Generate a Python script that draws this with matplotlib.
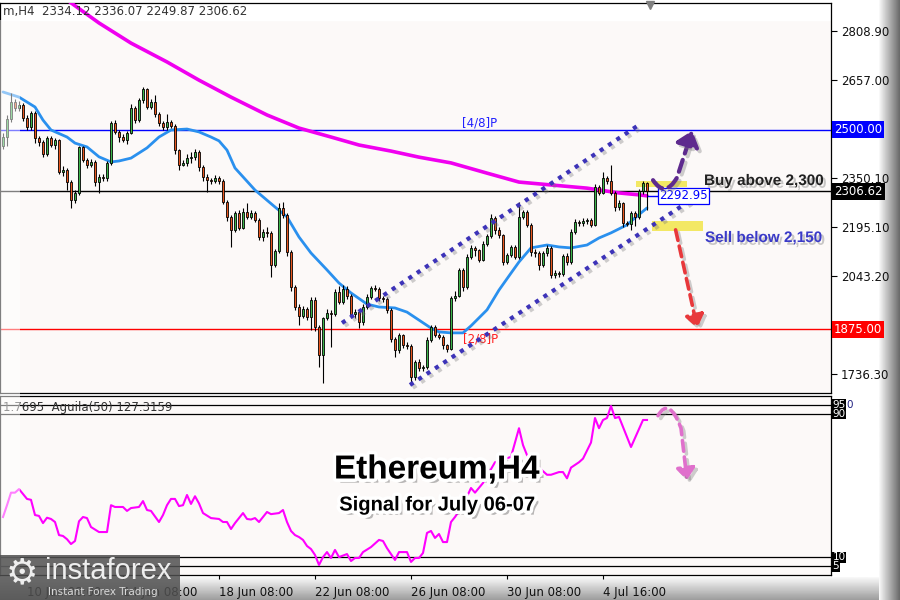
import numpy as np
import matplotlib
matplotlib.use('Agg')
from matplotlib import pyplot as plt
from matplotlib import patheffects as pe
from matplotlib.patches import Rectangle, FancyArrowPatch
from matplotlib.path import Path
from matplotlib.lines import Line2D
from matplotlib.transforms import blended_transform_factory

W, H = 900, 600

# ETHUSD H4 candles (open of first bar, then closes / highs / lows)
first_open = 2450.0
closes = [2477, 2533, 2587, 2568, 2577, 2536, 2508, 2552, 2474, 2461,
          2424, 2474, 2452, 2468, 2368, 2374, 2336, 2280, 2302, 2446,
          2405, 2390, 2399, 2336, 2352, 2349, 2396, 2521, 2493, 2477,
          2468, 2490, 2568, 2530, 2593, 2627, 2571, 2587, 2549, 2521,
          2508, 2524, 2512, 2436, 2390, 2396, 2411, 2415, 2430, 2383,
          2352, 2342, 2339, 2349, 2339, 2274, 2227, 2186, 2239, 2192,
          2242, 2227, 2239, 2217, 2164, 2180, 2177, 2077, 2120, 2255,
          2233, 2117, 2008, 1945, 1917, 1939, 1914, 1967, 1882, 1795,
          1911, 1926, 1924, 1992, 1961, 2001, 1979, 1923, 1929, 1898,
          1945, 1976, 2004, 2001, 1973, 1970, 1936, 1845, 1810, 1857,
          1826, 1824, 1726, 1773, 1754, 1757, 1842, 1882, 1857, 1851,
          1826, 1814, 1973, 1979, 2061, 2008, 2102, 2130, 2123, 2092,
          2142, 2167, 2224, 2186, 2170, 2086, 2108, 2133, 2101, 2227,
          2242, 2202, 2117, 2114, 2077, 2114, 2130, 2045, 2051, 2048,
          2105, 2086, 2180, 2211, 2209, 2214, 2217, 2202, 2321, 2302,
          2349, 2339, 2302, 2258, 2271, 2208, 2206, 2239, 2227, 2308,
          2334.12, 2306.62]
highs = [2490, 2545, 2615, 2595, 2590, 2582, 2545, 2560, 2558, 2480,
         2468, 2480, 2480, 2475, 2472, 2385, 2380, 2342, 2310, 2449,
         2450, 2412, 2408, 2405, 2360, 2360, 2402, 2528, 2530, 2500,
         2485, 2496, 2580, 2575, 2600, 2634, 2632, 2595, 2608, 2555,
         2528, 2550, 2530, 2518, 2440, 2405, 2425, 2430, 2440, 2435,
         2390, 2360, 2350, 2358, 2355, 2345, 2280, 2232, 2245, 2250,
         2255, 2271, 2248, 2245, 2225, 2190, 2195, 2183, 2128, 2271,
         2274, 2240, 2122, 2015, 1955, 1948, 1945, 1975, 1975, 1890,
         1915, 1940, 1935, 2000, 2010, 2015, 2010, 1985, 1940, 1935,
         1955, 1985, 2012, 2015, 2008, 1980, 1975, 1942, 1850, 1865,
         1862, 1835, 1830, 1780, 1782, 1765, 1850, 1890, 1888, 1865,
         1858, 1830, 1980, 1995, 2068, 2066, 2110, 2140, 2135, 2128,
         2150, 2175, 2235, 2230, 2195, 2175, 2115, 2140, 2138, 2274,
         2250, 2248, 2208, 2125, 2120, 2120, 2140, 2135, 2060, 2058,
         2112, 2115, 2190, 2220, 2218, 2222, 2225, 2222, 2330, 2328,
         2368, 2355, 2390, 2308, 2280, 2275, 2215, 2245, 2245, 2315,
         2340, 2336.07]
lows = [2440, 2450, 2525, 2560, 2560, 2528, 2500, 2500, 2458, 2450,
        2415, 2418, 2445, 2440, 2360, 2355, 2311, 2255, 2270, 2295,
        2398, 2380, 2382, 2325, 2302, 2340, 2340, 2390, 2485, 2460,
        2460, 2455, 2485, 2520, 2525, 2585, 2565, 2565, 2540, 2510,
        2500, 2500, 2505, 2425, 2375, 2385, 2385, 2395, 2405, 2370,
        2340, 2305, 2330, 2332, 2330, 2268, 2215, 2133, 2180, 2185,
        2188, 2220, 2220, 2210, 2155, 2150, 2165, 2039, 2070, 2115,
        2225, 2105, 1995, 1935, 1889, 1910, 1905, 1873, 1870, 1757,
        1707, 1905, 1820, 1918, 1955, 1955, 1970, 1915, 1910, 1880,
        1890, 1940, 1970, 1995, 1965, 1960, 1925, 1835, 1790, 1800,
        1818, 1815, 1705, 1715, 1745, 1745, 1750, 1835, 1850, 1845,
        1815, 1805, 1810, 1965, 1975, 1995, 2000, 2095, 2105, 2085,
        2088, 2135, 2160, 2175, 2160, 2075, 2080, 2100, 2095, 2095,
        2220, 2195, 2105, 2100, 2060, 2070, 2105, 2035, 2035, 2040,
        2042, 2075, 2080, 2175, 2200, 2200, 2205, 2195, 2198, 2295,
        2298, 2330, 2295, 2245, 2250, 2195, 2198, 2186, 2200, 2220,
        2300, 2249.87]

# moving averages (bar index, value)
fast_idx = [0, 4, 8, 10, 12, 16, 18, 21, 24, 27, 29, 32, 36, 39, 42, 46, 49,
            52, 54, 56, 58, 63, 68, 71, 74, 77, 81, 84, 87, 91, 94, 98, 101,
            104, 107, 109, 112, 115, 117, 121, 124, 127, 129, 132, 136, 139,
            142, 146, 149, 152, 156, 158, 161]
fast_val = [2618, 2602, 2571, 2530, 2499, 2477, 2458, 2446, 2415, 2399, 2402,
            2411, 2443, 2477, 2499, 2502, 2493, 2477, 2465, 2436, 2380, 2311,
            2258, 2227, 2164, 2114, 2061, 2020, 1989, 1954, 1945, 1942, 1929,
            1904, 1879, 1867, 1864, 1864, 1886, 1936, 1998, 2051, 2086, 2130,
            2139, 2133, 2130, 2139, 2161, 2177, 2202, 2224, 2255]
slow_idx = [10, 17, 24, 32, 41, 49, 57, 66, 74, 82, 89, 97, 104, 112, 121,
            129, 137, 146, 154, 159, 161]
slow_val = [2962, 2897, 2834, 2771, 2712, 2655, 2602, 2546, 2505, 2477, 2452,
            2433, 2414, 2396, 2364, 2336, 2327, 2317, 2302, 2296, 2292.95]

# Aguila(50) oscillator
ind_idx = [0, 1, 2, 3, 4, 6, 7, 8, 9, 10, 11, 12, 13, 14, 15, 16, 17, 18, 19,
           20, 21, 22, 24, 26, 27, 28, 30, 31, 32, 34, 35, 36, 37, 39, 40, 41,
           42, 43, 44, 45, 46, 47, 48, 49, 50, 52, 54, 55, 56, 57, 58, 59, 60,
           61, 62, 63, 64, 66, 67, 69, 70, 71, 72, 73, 74, 75, 76, 77, 78, 79,
           80, 81, 82, 83, 84, 86, 87, 88, 89, 90, 92, 94, 95, 96, 98, 99,
           101, 102, 103, 104, 105, 106, 107, 108, 109, 110, 111, 112, 113,
           115, 117, 118, 120, 123, 127, 129, 130, 131, 132, 135, 136, 137,
           139, 140, 141, 142, 144, 145, 147, 148, 149, 150, 151, 152, 153,
           154, 157, 160, 161]
ind_val = [32.4, 39, 46, 46, 48, 42.5, 42, 33.5, 33, 29, 32, 31.3, 29.6, 22.3,
           21.8, 20, 17.3, 19, 30, 32.4, 31.8, 26.8, 24, 24, 39, 38, 38, 35.8,
           37.4, 38, 41.3, 36.3, 35.8, 29.6, 33.5, 39, 42.5, 42.5, 38.5, 39,
           44.7, 39.7, 44, 40, 34.6, 31.8, 31.3, 29.6, 29.6, 25.7, 29, 31.8,
           34.6, 31.3, 31, 31.8, 29.6, 35.2, 34, 34.6, 36.3, 29.6, 24.6, 22.3,
           21.2, 19.6, 16.2, 14.5, 11.2, 5.6, 10, 12.8, 9.5, 14, 10, 11.7, 7.8,
           9.5, 9.5, 12.8, 15.6, 19.6, 19, 15, 8.4, 12.8, 12.8, 7.3, 9.5, 9.5,
           12.3, 23.5, 24.6, 20.7, 22.9, 18.4, 18.4, 29.6, 32.4, 39, 48.6, 46,
           51.4, 63, 66, 82, 72.6, 67, 64, 58, 56, 56, 57.5, 57.5, 54, 60, 63,
           65, 74, 87.7, 82, 86.6, 87.7, 94.4, 87.7, 88.3, 71.5, 86.6, 86.6]
ind_levels = [95, 90, 10, 5]

price_ticks = [2808.90, 2657.00, 2505.10, 2350.10, 2195.10, 2043.20, 1891.30, 1736.30]
hidden_ticks = [2505.10, 1891.30]  # covered by the level boxes
date_ticks = [6, 30, 54, 78, 102, 126, 150]
date_labels = ['10 Jun 08:00', '14 Jun 08:00', '18 Jun 08:00', '22 Jun 08:00',
               '26 Jun 08:00', '30 Jun 08:00', '4 Jul 16:00']

murrey_48 = 2500.0
murrey_28 = 1875.0
last_price = 2306.62
slow_last = 2292.95

# analyst drawings: channel (bar, price) pairs
channel_upper = ([84.75, 158.5], [1895, 2511])
channel_lower = ([101.75, 175.75], [1701, 2311])


def fx(x):
    return x / W


def fy(y):
    return 1 - y / H


fig = plt.figure(figsize=(9, 6), dpi=100)
fig.patch.set_facecolor('white')

# frame bevel on the right and the bottom
bg = fig.add_axes([0, 0, 1, 1], zorder=-10)
bg.set_xlim(0, W)
bg.set_ylim(H, 0)
bg.axis('off')
bg.imshow(np.linspace(0.97, 0.42, 20).reshape(1, -1), cmap='gray', vmin=0, vmax=1,
          extent=[879, 900, 600, 0], aspect='auto')
bg.imshow(np.linspace(0.97, 0.62, 20).reshape(-1, 1), cmap='gray', vmin=0, vmax=1,
          extent=[0, 879, 600, 577], aspect='auto')

ax = fig.add_axes([0, fy(393), fx(831), (393 - 3) / H])
ax2 = fig.add_axes([0, fy(575), fx(831), (575 - 396) / H])
for a in (ax, ax2):
    a.set_facecolor('#fcf9f8')
    for s in a.spines.values():
        s.set_color('black')
        s.set_linewidth(0.9)
    a.set_xlim(-0.75, 207)

ax.set_ylim(1675.8, 2896.5)
ax.add_patch(Rectangle((0, 0.957), 1, 0.05, transform=ax.transAxes,
                       color='white', zorder=0.5))

# candles
closes = np.array(closes, dtype=float)
highs = np.array(highs, dtype=float)
lows = np.array(lows, dtype=float)
opens = np.r_[first_open, closes[:-1]]
x = np.arange(len(closes))
up = closes >= opens
ax.vlines(x, lows, highs, color='black', lw=0.8, zorder=3)
ax.bar(x[up], (closes - opens)[up], bottom=opens[up], width=0.72,
       color='#3cb54a', edgecolor='black', lw=0.6, zorder=4)
ax.bar(x[~up], (closes - opens)[~up], bottom=opens[~up], width=0.72,
       color='#e8561e', edgecolor='black', lw=0.6, zorder=4)

ax.plot(slow_idx, slow_val, color='#f000f0', lw=2.6, zorder=2.6,
        solid_capstyle='round')
ax.plot(fast_idx, fast_val, color='#2a90ee', lw=2.0, zorder=2.7,
        solid_capstyle='round')

ax.axhline(murrey_48, color='#0000ff', lw=1, zorder=2)
ax.axhline(last_price, color='black', lw=1, zorder=2)
ax.axhline(murrey_28, color='#ff0000', lw=1, zorder=2)
ax.text(114.75, murrey_48 + 2, '[4/8]P', color='#2020ff', fontsize=8.5,
        va='bottom', ha='left', zorder=6)
ax.text(115, murrey_28 - 10, '[2/8]P', color='#ff2020', fontsize=8.5,
        va='top', ha='left', zorder=6)

dot_fx = [pe.SimpleLineShadow(offset=(2, -2), shadow_color='#777777', alpha=0.35),
          pe.Normal()]
for xs, ys in (channel_upper, channel_lower):
    ax.plot(xs, ys, color='#3d33b8', lw=3.0, ls=(0, (1, 1.4)), zorder=6,
            path_effects=dot_fx)

# highlight zones
ax.add_patch(Rectangle((158.25, 2320), 12.75, 20, color='#f2e54a', alpha=0.85,
                       lw=0, zorder=1.5))
ax.add_patch(Rectangle((162.25, 2183), 12.75, 31, color='#f2e54a', alpha=0.85,
                       lw=0, zorder=1.5))

# value label of slow MA
ax.plot([161.2, 164], [slow_last, slow_last], color='#0000ff', lw=1, zorder=6)
ax.text(164, slow_last, f'{slow_last:.2f}', color='#0000ff', fontsize=8.5,
        va='center', ha='left', zorder=7,
        bbox=dict(boxstyle='square,pad=0.12', fc='white', ec='#0000ff', lw=0.9))

arrow_fx = [pe.SimpleLineShadow(offset=(2, -2), shadow_color='#777777', alpha=0.35),
            pe.Normal()]
buy_path = Path([(162.5, 2342), (165.5, 2285), (168.5, 2350), (172.3, 2497)],
                [Path.MOVETO, Path.CURVE3, Path.CURVE3, Path.LINETO])
ax.add_patch(FancyArrowPatch(path=buy_path, arrowstyle='-|>,head_length=0.55,head_width=0.45',
                             mutation_scale=16, lw=3, ls=(0, (3, 1.6)),
                             color='#5e2a8e', zorder=8, path_effects=arrow_fx))
ax.add_patch(FancyArrowPatch((168, 2195), (173.75, 1870),
                             arrowstyle='-|>,head_length=0.55,head_width=0.4',
                             mutation_scale=14, lw=2.6, ls=(0, (3, 1.6)),
                             color='#e8383b', zorder=8, path_effects=arrow_fx))

# right price scale
ax.yaxis.tick_right()
ax.set_yticks(price_ticks)
ax.set_yticklabels(['' if v in hidden_ticks else f'{v:.2f}' for v in price_ticks])
ax.tick_params(axis='y', length=4, pad=3, labelsize=8.5, labelcolor='#111111')
ax.set_xticks([])
yb = blended_transform_factory(ax.transAxes, ax.transData)
for val, bgc in ((murrey_48, '#0000ff'), (last_price, 'black'), (murrey_28, '#ff0000')):
    ax.text(1.0035, val, f'{val:.2f}', transform=yb, color='white', fontsize=8.5,
            va='center', ha='left', zorder=9,
            bbox=dict(boxstyle='square,pad=0.18', fc=bgc, ec='none'))

# indicator panel
ax2.set_ylim(0, 100)
ax2.plot(ind_idx, ind_val, color='#ff00ff', lw=1.5, zorder=3)
for lv in ind_levels:
    ax2.axhline(lv, color='black', lw=0.9, zorder=2)
ax2.set_yticks([])
ax2.set_xticks(date_ticks)
ax2.set_xticklabels(date_labels, ha='left', fontsize=8.5, color='#111111')
ax2.tick_params(axis='x', length=3, pad=5)
yb2 = blended_transform_factory(ax2.transAxes, ax2.transData)
for lv in ind_levels:
    ax2.text(1.002, lv, str(lv), transform=yb2, color='white', fontsize=7.5,
             va='center', ha='left', zorder=9,
             bbox=dict(boxstyle='square,pad=0.05', fc='black', ec='none'))
ax2.text(1.018, 95, '0', transform=yb2, color='#202080', fontsize=7.5,
         va='center', ha='left')

pink_path = Path([(163.75, 89), (166.5, 100), (169.5, 82), (171, 53)],
                 [Path.MOVETO, Path.CURVE3, Path.CURVE3, Path.LINETO])
ax2.add_patch(FancyArrowPatch(path=pink_path, arrowstyle='-|>,head_length=0.5,head_width=0.4',
                              mutation_scale=14, lw=2.6, ls=(0, (3, 1.6)),
                              color='#e070cc', zorder=8, path_effects=arrow_fx))

# header texts
fig.text(fx(3), fy(12), 'm,H4  2334.12 2336.07 2249.87 2306.62', fontsize=8.5,
         color='#333333', va='center', ha='left')
fig.text(fx(3), fy(407), '1.7695  Aguila(50) 127.3159', fontsize=8.5,
         color='#333333', va='center', ha='left')

# signal texts
shadow_fx = [pe.SimplePatchShadow(offset=(2, -2), shadow_rgbFace='#888888', alpha=0.45),
             pe.Normal()]
fig.text(fx(704), fy(181), 'Buy above 2,300', fontsize=11, fontweight='bold',
         family='Liberation Sans', color='#222222', va='center', ha='left',
         path_effects=shadow_fx)
fig.text(fx(705), fy(238), 'Sell below 2,150', fontsize=11, fontweight='bold',
         family='Liberation Sans', color='#3a3ac8', va='center', ha='left',
         path_effects=shadow_fx)

title_fx = [pe.SimplePatchShadow(offset=(3, -3), shadow_rgbFace='#666666', alpha=0.45),
            pe.Stroke(linewidth=5, foreground='white'), pe.Normal()]
fig.text(fx(437), fy(470), 'Ethereum,H4', fontsize=24, fontweight='bold',
         family='Liberation Sans', color='black', va='center', ha='center',
         path_effects=title_fx, zorder=12)
fig.text(fx(437), fy(505), 'Signal for July 06-07', fontsize=14.5, fontweight='bold',
         family='Liberation Sans', color='black', va='center', ha='center',
         path_effects=title_fx, zorder=12)

# left fade strip and top marker
fig.add_artist(Rectangle((0, fy(575)), fx(20), (575 - 20) / H, transform=fig.transFigure,
                         facecolor='white', edgecolor='none', alpha=0.5, zorder=5))
fig.add_artist(Line2D([fx(650)], [fy(5)], marker='v', color='#808080', markersize=6,
                      transform=fig.transFigure))

# logo
fig.add_artist(Rectangle((0, 0), fx(180), 45 / H, transform=fig.transFigure,
                         facecolor='#505050', edgecolor='none', alpha=0.85, zorder=10))
fig.text(fx(22), fy(573), '\u2699', fontsize=26, color='#eeeeee', va='center',
         ha='center', zorder=11)
fig.text(fx(45), fy(571), 'instaforex', fontsize=21, color='#eeeeee',
         family='Liberation Sans', va='center', ha='left', zorder=11)
fig.text(fx(48), fy(592), 'Instant Forex Trading', fontsize=7.5, color='#d8d8d8',
         va='center', ha='left', zorder=11)

fig.savefig('out.png', dpi=100)
